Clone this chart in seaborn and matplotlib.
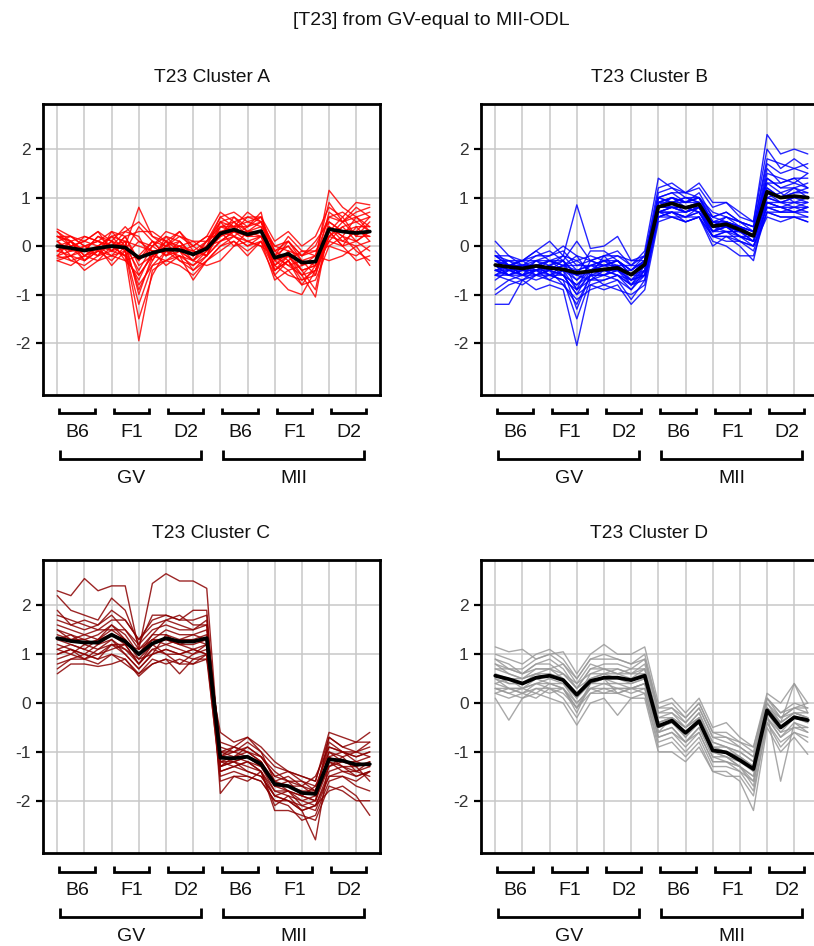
import matplotlib
matplotlib.use("Agg")
import matplotlib.pyplot as plt
from matplotlib import transforms
import numpy as np
import pandas as pd
import seaborn as sns

# ---------------------------------------------------------------------------
# Sample layout: 2 stages x 3 strains x 4 replicates = 24 samples
# ---------------------------------------------------------------------------
stages = ["GV", "MII"]
strains = ["B6", "F1", "D2"]
n_rep = 4
sample_pos = list(range(24))

# ---------------------------------------------------------------------------
# Cluster A: standardised expression of member genes and cluster centre
# ---------------------------------------------------------------------------
cluster_a_center = [0.0, -0.04, -0.09, -0.04, 0.0, -0.03, -0.24, -0.14,
                    -0.07, -0.08, -0.17, -0.05, 0.26, 0.34, 0.24, 0.31,
                    -0.24, -0.16, -0.34, -0.32, 0.35, 0.30, 0.27, 0.30]
cluster_a_genes = [
    [0.3, 0.1, -0.1, 0.2, 0.1, 0.0, 0.8, 0.2, 0.1, 0.3, -0.1, 0.1, 0.5, 0.6, 0.4, 0.6, -0.1, 0.1, -0.2, 0.0, 0.6, 0.5, 0.7, 0.8],
    [-0.2, -0.3, -0.4, -0.2, -0.1, -0.2, -1.95, -0.5, -0.3, -0.2, -0.4, -0.2, 0.1, 0.2, 0.1, 0.2, -0.5, -0.3, -0.6, -0.5, 0.2, 0.1, 0.0, 0.1],
    [0.2, 0.2, 0.0, 0.1, 0.3, 0.2, -0.3, 0.0, 0.2, 0.1, -0.2, 0.0, 0.6, 0.7, 0.5, 0.6, -0.2, 0.0, -0.4, -0.3, 1.15, 0.8, 0.6, 0.7],
    [-0.3, -0.2, -0.5, -0.3, -0.2, -0.1, -1.2, -0.4, -0.3, -0.4, -0.6, -0.3, 0.0, 0.1, -0.1, 0.1, -0.7, -0.5, -0.8, -0.7, 0.0, -0.1, -0.2, 0.0],
    [0.1, -0.1, 0.0, 0.1, 0.0, 0.1, -0.6, -0.2, 0.0, -0.1, -0.3, 0.1, 0.4, 0.3, 0.3, 0.5, -0.3, -0.2, -0.5, -0.4, 0.5, 0.3, 0.4, 0.4],
    [0.0, 0.1, -0.2, 0.0, 0.2, -0.1, 0.4, 0.1, -0.2, 0.0, 0.1, -0.1, 0.2, 0.5, 0.3, 0.4, 0.0, -0.1, -0.2, -0.1, 0.3, 0.6, 0.2, 0.5],
    [-0.1, 0.0, -0.3, -0.1, -0.3, 0.0, -0.9, -0.3, 0.1, -0.3, -0.5, -0.2, 0.3, 0.2, 0.0, 0.2, -0.4, -0.6, -0.7, -0.6, 0.4, 0.2, 0.1, 0.3],
    [0.35, 0.2, 0.1, 0.3, 0.1, 0.4, 0.1, 0.0, 0.3, 0.2, 0.0, 0.2, 0.7, 0.5, 0.6, 0.6, 0.1, 0.3, 0.0, 0.2, 0.8, 0.6, 0.9, 0.85],
    [-0.3, -0.4, -0.2, -0.3, 0.0, -0.2, -0.7, -0.1, -0.4, -0.2, -0.3, -0.4, -0.3, 0.0, 0.1, 0.0, -0.6, -0.9, -1.0, -0.5, 0.1, 0.0, -0.3, -0.2],
    [0.2, 0.0, 0.1, 0.3, -0.1, 0.2, -0.4, -0.2, 0.0, 0.1, -0.2, 0.0, 0.5, 0.4, 0.7, 0.5, -0.3, 0.1, -0.3, -0.2, 0.6, 0.7, 0.5, 0.6],
    [0.1, -0.2, -0.1, 0.0, 0.2, 0.1, 0.0, -0.1, -0.1, 0.0, -0.1, -0.2, 0.1, 0.3, 0.2, 0.3, -0.2, -0.4, -0.3, -0.6, 0.2, 0.4, 0.1, 0.3],
    [-0.2, 0.1, -0.3, 0.0, -0.4, -0.1, -1.5, -0.6, -0.1, -0.3, -0.4, -0.1, 0.4, 0.4, 0.2, 0.3, -0.4, -0.2, -0.5, -0.9, 0.4, 0.1, 0.3, 0.2],
    [0.0, -0.1, 0.2, 0.1, 0.0, 0.3, 0.2, -0.3, 0.2, -0.1, -0.3, -0.1, 0.2, 0.6, 0.3, 0.2, -0.1, -0.3, -0.1, -0.2, 0.9, 0.5, 0.6, 0.4],
    [0.2, 0.1, -0.2, -0.1, 0.1, -0.3, -0.2, 0.1, 0.0, 0.3, 0.0, -0.2, 0.5, 0.2, 0.4, 0.7, -0.5, -0.2, -0.6, -0.3, 0.3, 0.0, 0.4, 0.1],
    [-0.1, -0.2, 0.0, -0.2, 0.3, 0.0, -0.3, 0.1, -0.2, 0.1, -0.2, 0.0, 0.1, 0.3, 0.1, 0.0, -0.2, 0.2, -0.1, -0.1, 0.0, 0.2, -0.1, -0.3],
    [0.3, 0.0, 0.1, 0.0, -0.2, 0.1, -1.0, -0.2, 0.1, 0.0, -0.2, 0.1, 0.6, 0.4, 0.5, 0.4, -0.6, -0.3, -0.8, -0.4, 0.7, 0.5, 0.8, 0.6],
    [-0.2, -0.1, -0.1, 0.2, 0.0, -0.2, 0.1, -0.1, -0.1, -0.2, -0.7, -0.3, -0.1, 0.1, -0.2, 0.1, -0.3, -0.5, -0.4, -0.2, -0.3, -0.2, 0.0, -0.4],
    [0.1, 0.2, 0.0, -0.1, 0.2, 0.3, 0.5, 0.2, 0.0, 0.2, 0.1, 0.1, 0.3, 0.4, 0.4, 0.5, 0.0, 0.1, -0.2, 0.1, 0.5, 0.3, 0.3, 0.6],
    [0.0, -0.3, -0.2, 0.0, -0.1, 0.0, -0.5, 0.0, -0.2, -0.1, -0.1, -0.2, 0.4, 0.5, 0.2, 0.2, -0.4, -0.1, -0.5, -0.4, 0.2, 0.5, 0.2, 0.2],
    [-0.1, 0.1, -0.1, -0.2, 0.1, -0.1, -0.8, -0.4, -0.1, 0.0, -0.3, 0.0, 0.3, 0.0, 0.3, 0.3, -0.2, -0.4, -0.6, -1.05, 0.4, 0.2, 0.6, 0.3],
    [0.2, 0.1, 0.2, 0.1, -0.1, 0.2, 0.3, 0.3, 0.1, -0.1, 0.0, 0.2, 0.2, 0.3, 0.6, 0.5, -0.1, 0.0, -0.3, -0.4, 0.1, 0.4, 0.5, 0.3],
    [-0.25, -0.2, -0.3, -0.1, -0.2, -0.3, -0.6, -0.2, -0.3, -0.1, -0.5, -0.3, 0.0, 0.2, 0.0, 0.1, -0.5, -0.3, -0.7, -0.5, 0.3, 0.0, 0.1, -0.1],
]

# ---------------------------------------------------------------------------
# Cluster B
# ---------------------------------------------------------------------------
cluster_b_center = [-0.39, -0.43, -0.46, -0.41, -0.45, -0.48, -0.55, -0.52,
                    -0.48, -0.45, -0.59, -0.38, 0.81, 0.88, 0.79, 0.86,
                    0.41, 0.45, 0.34, 0.21, 1.12, 1.00, 1.03, 1.00]
cluster_b_genes = [
    [0.1, -0.2, -0.3, -0.1, -0.3, -0.2, 0.85, -0.05, 0.0, 0.2, -0.3, -0.2, 1.2, 1.3, 1.1, 1.3, 0.9, 0.9, 0.7, 0.5, 2.3, 1.9, 2.0, 1.9],
    [-1.2, -1.2, -0.7, -0.9, -0.8, -0.9, -2.05, -0.8, -0.9, -0.8, -1.2, -0.9, 0.5, 0.6, 0.5, 0.6, 0.1, 0.0, -0.2, -0.2, 0.7, 0.6, 0.6, 0.5],
    [-0.3, -0.5, -0.4, -0.3, -0.4, -0.3, -0.6, -0.5, -0.4, -0.3, -0.6, -0.3, 0.9, 1.0, 0.8, 0.9, 0.5, 0.4, 0.3, 0.1, 1.2, 1.0, 1.1, 1.1],
    [-0.6, -0.7, -0.6, -0.5, -0.6, -0.7, -1.5, -0.7, -0.5, -0.6, -0.8, -0.6, 0.6, 0.7, 0.6, 0.7, 0.2, 0.3, 0.1, 0.0, 0.8, 0.7, 0.8, 0.7],
    [-0.2, -0.3, -0.3, -0.2, -0.1, -0.3, 0.1, -0.3, -0.2, -0.1, -0.4, -0.2, 1.0, 1.1, 0.9, 1.1, 0.6, 0.7, 0.5, 0.4, 1.7, 1.5, 1.6, 1.5],
    [-0.5, -0.4, -0.6, -0.5, -0.3, -0.5, -0.9, -0.6, -0.6, -0.4, -0.7, -0.4, 0.7, 0.8, 0.7, 0.8, 0.3, 0.4, 0.2, 0.1, 1.0, 0.9, 0.9, 0.9],
    [-1.0, -0.8, -0.7, -0.6, -0.5, -0.8, -1.2, -0.6, -0.8, -0.7, -1.1, -0.7, 0.6, 0.7, 0.5, 0.6, 0.0, 0.2, 0.0, -0.3, 0.9, 0.8, 0.7, 0.8],
    [-0.1, -0.4, -0.3, -0.1, 0.1, -0.2, -0.3, -0.2, -0.3, -0.2, -0.4, -0.1, 1.4, 1.2, 1.1, 1.2, 0.8, 0.9, 0.6, 0.5, 2.0, 1.6, 1.8, 1.6],
    [-0.4, -0.6, -0.5, -0.6, -0.4, -0.5, -0.7, -0.4, -0.5, -0.5, -0.7, -0.5, 0.8, 0.9, 0.8, 0.7, 0.3, 0.5, 0.4, 0.2, 1.1, 0.9, 1.0, 1.0],
    [-0.3, -0.3, -0.4, -0.4, -0.6, -0.4, -0.2, -0.6, -0.2, -0.5, -0.5, -0.3, 0.9, 1.0, 0.9, 1.0, 0.5, 0.6, 0.5, 0.3, 1.4, 1.2, 1.3, 1.2],
    [-0.7, -0.5, -0.6, -0.7, -0.6, -0.6, -1.0, -0.8, -0.7, -0.6, -0.9, -0.5, 0.7, 0.6, 0.6, 0.7, 0.2, 0.2, 0.1, 0.0, 0.6, 0.5, 0.6, 0.5],
    [-0.2, -0.4, -0.6, -0.3, -0.2, -0.1, -0.4, -0.3, -0.4, -0.3, -0.5, -0.2, 1.0, 0.9, 1.0, 0.9, 0.5, 0.5, 0.4, 0.3, 1.6, 1.3, 1.4, 1.4],
    [-0.5, -0.5, -0.4, -0.4, -0.5, -0.6, -0.8, -0.5, -0.4, -0.5, -0.6, -0.6, 0.8, 0.8, 0.7, 0.9, 0.4, 0.3, 0.3, 0.2, 0.9, 0.8, 0.8, 0.9],
    [-0.4, -0.3, -0.5, -0.4, -0.3, -0.3, -0.6, -0.1, -0.1, -0.3, -0.5, -0.3, 0.8, 1.0, 0.9, 1.0, 0.4, 0.5, 0.4, 0.2, 1.3, 1.1, 1.2, 1.1],
    [-0.6, -0.6, -0.7, -0.5, -0.7, -0.5, -1.3, -0.6, -0.6, -0.7, -0.9, -0.6, 0.7, 0.7, 0.6, 0.8, 0.3, 0.3, 0.2, 0.1, 0.8, 0.7, 0.7, 0.7],
    [-0.3, -0.4, -0.3, -0.5, -0.4, -0.2, -0.5, -0.4, -0.3, -0.4, -0.4, -0.4, 0.9, 0.8, 0.8, 0.8, 0.6, 0.5, 0.4, 0.3, 1.1, 1.0, 1.2, 1.0],
    [-0.5, -0.4, -0.5, -0.3, -0.5, -0.4, -0.7, -0.5, -0.5, -0.4, -0.8, -0.4, 1.0, 0.9, 1.0, 0.9, 0.4, 0.6, 0.4, 0.3, 1.5, 1.4, 1.3, 1.5],
    [-0.9, -0.7, -0.8, -0.6, -0.7, -0.8, -1.1, -0.9, -0.8, -0.9, -1.0, -0.8, 0.6, 0.6, 0.5, 0.6, 0.2, 0.1, 0.1, -0.1, 0.7, 0.6, 0.6, 0.6],
    [-0.2, -0.2, -0.4, -0.2, -0.2, 0.0, -0.2, -0.3, -0.2, -0.2, -0.3, -0.3, 1.1, 1.2, 1.0, 1.0, 0.7, 0.6, 0.5, 0.4, 1.8, 1.7, 1.6, 1.7],
    [-0.4, -0.6, -0.5, -0.5, -0.4, -0.6, -0.8, -0.6, -0.5, -0.6, -0.7, -0.6, 0.7, 0.8, 0.8, 0.7, 0.3, 0.4, 0.2, 0.2, 0.9, 0.9, 0.8, 0.8],
    [-0.6, -0.4, -0.4, -0.4, -0.3, -0.4, -0.5, -0.4, -0.4, -0.3, -0.6, -0.4, 0.8, 0.9, 0.9, 1.0, 0.5, 0.5, 0.3, 0.2, 1.2, 1.0, 1.1, 1.2],
    [-0.3, -0.5, -0.4, -0.5, -0.5, -0.3, -0.9, -0.3, -0.4, -0.4, -0.6, -0.4, 0.9, 0.9, 0.7, 0.8, 0.4, 0.4, 0.3, 0.2, 1.0, 1.1, 0.9, 1.0],
    [-0.5, -0.6, -0.6, -0.4, -0.6, -0.5, -0.6, -0.7, -0.6, -0.5, -0.8, -0.5, 0.7, 0.7, 0.7, 0.8, 0.3, 0.4, 0.2, 0.1, 0.8, 0.8, 0.7, 0.8],
    [-0.2, -0.4, -0.3, -0.3, -0.3, -0.4, -0.4, -0.4, -0.3, -0.3, -0.5, -0.3, 1.0, 1.1, 1.1, 1.0, 0.6, 0.7, 0.5, 0.4, 1.3, 1.3, 1.4, 1.2],
    [-0.4, -0.5, -0.5, -0.5, -0.4, -0.5, -0.6, -0.5, -0.5, -0.4, -0.6, -0.5, 0.8, 0.8, 0.8, 0.9, 0.4, 0.4, 0.3, 0.2, 1.0, 0.9, 1.0, 0.9],
    [-0.6, -0.5, -0.6, -0.6, -0.5, -0.6, -1.0, -0.5, -0.6, -0.5, -0.7, -0.6, 0.7, 0.8, 0.7, 0.8, 0.2, 0.3, 0.3, 0.1, 0.9, 0.8, 0.9, 0.8],
    [-0.3, -0.4, -0.4, -0.4, -0.5, -0.4, -0.3, -0.5, -0.3, -0.5, -0.6, -0.3, 0.9, 1.0, 0.9, 0.9, 0.5, 0.4, 0.4, 0.3, 1.4, 1.2, 1.2, 1.3],
    [-0.5, -0.6, -0.4, -0.6, -0.6, -0.7, -0.9, -0.7, -0.7, -0.6, -0.8, -0.7, 0.6, 0.7, 0.6, 0.6, 0.2, 0.2, 0.2, 0.0, 0.7, 0.7, 0.7, 0.6],
]

# ---------------------------------------------------------------------------
# Cluster C
# ---------------------------------------------------------------------------
cluster_c_center = [1.33, 1.27, 1.24, 1.24, 1.40, 1.26, 1.00, 1.22,
                    1.33, 1.26, 1.26, 1.33, -1.12, -1.13, -1.10, -1.25,
                    -1.66, -1.70, -1.84, -1.86, -1.15, -1.18, -1.26, -1.25]
cluster_c_genes = [
    [2.3, 2.2, 2.55, 2.3, 2.4, 2.4, 1.1, 2.45, 2.65, 2.5, 2.5, 2.35, -1.3, -1.2, -1.4, -1.5, -1.9, -2.0, -2.1, -2.2, -1.5, -1.5, -1.6, -1.4],
    [0.6, 0.8, 0.8, 0.75, 0.8, 0.9, 0.55, 0.8, 0.9, 0.6, 0.9, 0.9, -0.6, -0.8, -0.7, -0.9, -1.2, -1.4, -1.5, -1.6, -0.6, -0.7, -0.8, -0.8],
    [2.2, 1.9, 1.8, 1.7, 2.15, 1.9, 1.2, 1.8, 1.8, 1.7, 1.9, 1.9, -1.85, -1.5, -1.6, -1.4, -2.2, -2.2, -2.3, -2.4, -1.7, -1.8, -2.0, -2.0],
    [1.0, 1.1, 1.0, 0.9, 1.2, 1.0, 0.7, 1.0, 1.1, 1.0, 1.1, 1.0, -1.0, -0.9, -1.0, -1.1, -1.5, -1.4, -1.6, -1.8, -0.9, -1.0, -1.0, -1.1],
    [1.7, 1.6, 1.5, 1.6, 1.8, 1.5, 1.1, 1.4, 1.7, 1.6, 1.5, 1.7, -1.4, -1.3, -1.2, -1.4, -1.9, -1.8, -2.0, -1.9, -1.3, -1.1, -1.4, -1.3],
    [1.3, 1.2, 1.1, 1.3, 1.5, 1.3, 0.9, 1.2, 1.3, 1.2, 1.3, 1.2, -1.1, -1.2, -1.1, -1.3, -1.6, -1.8, -1.9, -1.7, -1.2, -1.3, -1.4, -1.2],
    [0.9, 1.0, 0.9, 1.0, 1.1, 1.2, 0.8, 1.1, 1.0, 0.8, 1.0, 1.1, -0.9, -1.0, -0.8, -1.0, -1.6, -1.5, -1.7, -1.9, -0.7, -0.9, -1.0, -0.9],
    [1.5, 1.4, 1.3, 1.4, 1.6, 1.4, 1.0, 1.3, 1.5, 1.4, 1.4, 1.5, -1.2, -1.1, -1.0, -1.2, -1.7, -1.6, -1.9, -2.0, -1.0, -1.2, -1.2, -1.3],
    [1.1, 1.0, 1.2, 1.1, 1.3, 1.1, 0.8, 1.1, 1.2, 1.1, 1.0, 1.2, -1.2, -1.3, -1.2, -1.3, -1.8, -1.9, -2.0, -2.1, -1.4, -1.3, -1.5, -1.4],
    [1.8, 1.7, 1.6, 1.5, 1.7, 1.7, 1.3, 1.6, 1.7, 1.8, 1.6, 1.6, -1.0, -1.0, -0.9, -1.1, -1.4, -1.6, -1.7, -1.5, -0.9, -1.0, -1.1, -1.0],
    [0.8, 0.9, 1.0, 0.9, 1.0, 0.9, 0.6, 0.9, 0.8, 0.9, 0.8, 0.9, -1.5, -1.4, -1.5, -1.6, -2.0, -2.1, -2.4, -2.3, -1.6, -1.5, -1.7, -1.8],
    [1.4, 1.3, 1.3, 1.2, 1.4, 1.2, 1.1, 1.3, 1.2, 1.3, 1.3, 1.4, -1.1, -0.9, -1.0, -1.2, -1.7, -1.7, -1.8, -1.8, -1.1, -1.0, -1.2, -1.1],
    [1.2, 1.1, 1.0, 1.2, 1.3, 1.0, 0.7, 1.0, 1.4, 1.2, 1.1, 1.2, -1.3, -1.2, -1.3, -1.4, -2.1, -1.9, -2.2, -2.8, -1.2, -1.4, -1.4, -1.5],
    [1.6, 1.5, 1.4, 1.5, 1.5, 1.5, 1.2, 1.5, 1.6, 1.5, 1.5, 1.6, -1.0, -1.1, -0.9, -1.1, -1.5, -1.6, -1.6, -1.7, -1.0, -1.1, -1.0, -0.8],
    [1.0, 1.1, 0.9, 1.1, 1.2, 1.1, 0.9, 1.0, 1.1, 1.0, 0.9, 1.0, -1.3, -1.1, -1.2, -1.4, -1.8, -1.8, -2.1, -2.0, -1.3, -1.2, -1.3, -1.6],
    [1.9, 1.6, 1.7, 1.6, 1.9, 1.7, 1.3, 1.7, 1.8, 1.7, 1.7, 1.8, -1.2, -1.2, -1.1, -1.3, -1.7, -1.8, -1.9, -2.0, -1.1, -1.3, -1.3, -1.2],
    [1.1, 1.2, 1.1, 1.0, 1.2, 1.2, 0.8, 1.2, 1.0, 1.0, 1.1, 1.0, -1.1, -1.0, -1.1, -1.2, -1.6, -1.7, -1.7, -1.8, -0.8, -1.0, -1.1, -1.0],
    [1.3, 1.4, 1.2, 1.3, 1.4, 1.3, 1.0, 1.3, 1.3, 1.2, 1.2, 1.3, -1.4, -1.3, -1.4, -1.5, -1.9, -2.0, -2.2, -2.1, -1.5, -1.4, -1.5, -1.4],
    [0.7, 0.9, 0.9, 0.8, 1.0, 0.8, 0.6, 0.8, 0.9, 0.8, 0.8, 1.0, -1.6, -1.5, -1.5, -1.6, -2.0, -2.0, -2.2, -2.1, -1.8, -1.7, -1.9, -2.3],
    [1.5, 1.3, 1.4, 1.3, 1.6, 1.3, 1.0, 1.4, 1.4, 1.3, 1.4, 1.3, -0.8, -0.9, -0.7, -1.0, -1.3, -1.4, -1.5, -1.6, -0.7, -0.9, -0.8, -0.6],
]

# ---------------------------------------------------------------------------
# Cluster D
# ---------------------------------------------------------------------------
cluster_d_center = [0.56, 0.49, 0.40, 0.52, 0.56, 0.47, 0.17, 0.45,
                    0.52, 0.52, 0.47, 0.56, -0.47, -0.36, -0.61, -0.37,
                    -0.97, -1.01, -1.17, -1.35, -0.15, -0.50, -0.29, -0.35]
cluster_d_genes = [
    [1.15, 1.05, 1.1, 0.9, 1.0, 1.05, 0.6, 1.0, 1.2, 1.0, 1.0, 1.15, 0.0, 0.1, -0.2, 0.1, -0.5, -0.4, -0.7, -0.9, 0.2, 0.0, 0.4, 0.0],
    [0.1, -0.35, 0.1, 0.2, 0.1, 0.0, -0.45, 0.0, 0.1, -0.25, 0.1, 0.1, -1.0, -1.0, -1.2, -0.9, -1.4, -1.4, -1.6, -2.2, -0.5, -1.0, -0.7, -1.05],
    [0.8, 0.7, 0.6, 0.8, 0.9, 0.7, 0.3, 0.7, 0.8, 0.8, 0.7, 0.9, -0.2, -0.1, -0.4, -0.1, -0.7, -0.8, -0.9, -1.1, 0.1, -0.3, -0.1, -0.2],
    [0.3, 0.2, 0.1, 0.3, 0.3, 0.2, -0.1, 0.2, 0.3, 0.3, 0.2, 0.3, -0.7, -0.6, -0.9, -0.6, -1.2, -1.2, -1.4, -1.6, -0.3, -0.7, -0.5, -0.6],
    [0.6, 0.5, 0.5, 0.6, 0.7, 0.5, 0.2, 0.5, 0.6, 0.6, 0.5, 0.7, -0.4, -0.3, -0.6, -0.3, -0.9, -1.0, -1.1, -1.3, -0.1, -0.4, -0.2, -0.3],
    [0.4, 0.3, 0.2, 0.4, 0.5, 0.4, 0.0, 0.3, 0.4, 0.4, 0.4, 0.5, -0.5, -0.4, -0.7, -0.4, -1.0, -1.1, -1.2, -1.4, -0.2, -0.6, -0.3, -0.4],
    [0.9, 0.8, 0.6, 0.7, 0.7, 0.8, 0.4, 0.8, 0.7, 0.6, 0.7, 0.7, -0.3, -0.2, -0.5, -0.2, -0.8, -0.9, -1.0, -1.2, -0.1, -0.3, -0.2, -0.3],
    [0.2, 0.3, 0.3, 0.2, 0.4, 0.3, -0.2, 0.4, 0.5, 0.2, 0.3, 0.4, -0.6, -0.5, -0.8, -0.5, -1.1, -1.2, -1.3, -1.7, -0.2, -1.6, -0.4, -0.5],
    [0.7, 0.6, 0.5, 0.6, 0.6, 0.5, 0.1, 0.6, 0.7, 0.7, 0.6, 0.6, -0.5, -0.4, -0.6, -0.4, -1.0, -1.0, -1.1, -1.3, -0.1, -0.5, -0.3, -0.3],
    [0.5, 0.4, 0.4, 0.5, 0.6, 0.5, 0.2, 0.5, 0.5, 0.5, 0.4, 0.5, -0.4, -0.3, -0.5, -0.3, -0.9, -0.9, -1.1, -1.3, -0.2, -0.4, 0.4, -0.2],
    [0.3, 0.3, 0.2, 0.3, 0.2, 0.3, -0.1, 0.3, 0.2, 0.3, 0.3, 0.2, -0.8, -0.7, -1.0, -0.7, -1.3, -1.3, -1.4, -1.8, -0.4, -0.8, -0.6, -0.7],
    [1.0, 0.9, 0.8, 1.0, 1.1, 0.9, 0.5, 0.9, 1.0, 0.9, 0.8, 1.0, -0.1, 0.0, -0.3, 0.0, -0.6, -0.6, -0.8, -1.0, 0.1, -0.2, 0.0, -0.1],
    [0.4, 0.5, 0.3, 0.5, 0.4, 0.4, 0.1, 0.4, 0.5, 0.4, 0.3, 0.4, -0.6, -0.3, -0.7, -0.3, -1.0, -1.1, -1.3, -1.5, -0.2, -0.5, -0.3, -0.4],
    [0.6, 0.4, 0.4, 0.6, 0.5, 0.6, 0.3, 0.5, 0.6, 0.5, 0.5, 0.6, -0.3, -0.3, -0.5, -0.3, -0.8, -0.9, -1.0, -1.2, 0.0, -0.4, -0.2, -0.2],
    [0.2, 0.1, 0.2, 0.1, 0.3, 0.1, -0.3, 0.2, 0.2, 0.2, 0.1, 0.2, -0.9, -0.8, -1.1, -0.8, -1.4, -1.5, -1.5, -1.9, -0.4, -0.9, -0.6, -0.8],
    [0.7, 0.7, 0.6, 0.8, 0.8, 0.6, 0.3, 0.7, 0.7, 0.6, 0.6, 0.8, -0.2, -0.2, -0.4, -0.1, -0.7, -0.7, -0.9, -1.1, 0.0, -0.3, -0.1, -0.1],
    [0.5, 0.3, 0.3, 0.4, 0.4, 0.3, -0.1, 0.4, 0.4, 0.3, 0.3, 0.4, -0.6, -0.5, -0.8, -0.5, -1.1, -1.1, -1.3, -1.5, -0.3, -0.6, -0.5, -0.5],
    [0.8, 0.6, 0.5, 0.7, 0.7, 0.6, 0.4, 0.6, 0.6, 0.7, 0.6, 0.7, -0.4, -0.3, -0.5, -0.2, -0.9, -1.0, -1.1, -1.4, -0.1, -0.4, -0.2, -0.3],
    [0.3, 0.2, 0.3, 0.4, 0.3, 0.3, 0.0, 0.3, 0.3, 0.2, 0.3, 0.3, -0.7, -0.6, -0.8, -0.6, -1.2, -1.2, -1.3, -1.6, -0.3, -0.7, -0.4, -0.6],
    [0.9, 0.7, 0.7, 0.9, 1.0, 0.8, 0.5, 0.9, 0.9, 0.9, 0.8, 0.9, -0.1, -0.1, -0.3, 0.0, -0.6, -0.7, -0.8, -0.9, 0.1, -0.2, -0.1, 0.0],
]

panel_titles = ["T23 Cluster A", "T23 Cluster B", "T23 Cluster C", "T23 Cluster D"]
panel_colors = ["#ff0000", "#0000ff", "#8b0000", "#999999"]
figure_title = "[T23] from GV-equal to MII-ODL"

# ---------------------------------------------------------------------------
# Figure
# ---------------------------------------------------------------------------
sns.set_theme(style="white")
plt.rcParams["font.family"] = ["Liberation Sans", "DejaVu Sans"]
plt.rcParams["axes.unicode_minus"] = False

FIG_W, FIG_H = 814, 946
fig = plt.figure(figsize=(FIG_W / 100, FIG_H / 100), dpi=100)

# axes boxes in pixels: left, top, width, height
boxes = [(43, 104, 337, 291), (481, 104, 337, 291),
         (43, 560, 337, 293), (481, 560, 337, 293)]


def long_table(genes):
    rows = []
    for g, values in enumerate(genes):
        for pos, v in zip(sample_pos, values):
            rows.append({"gene": g, "sample": pos, "value": v})
    return pd.DataFrame(rows)


def add_brackets(ax, h_px):
    blend = transforms.blended_transform_factory(ax.transData, ax.transAxes)

    def yf(px):
        return -px / h_px

    # strain brackets
    for k in range(6):
        x0, x1 = 4 * k + 0.15, 4 * k + 2.75
        ax.plot([x0, x0, x1, x1], [yf(13), yf(18.5), yf(18.5), yf(13)],
                transform=blend, color="black", lw=2.0, clip_on=False,
                solid_joinstyle="miter", solid_capstyle="butt")
        ax.text((x0 + x1) / 2, yf(42), strains[k % 3], transform=blend,
                ha="center", va="baseline", fontsize=14, color="#111111")
    # stage brackets
    for k, stage in enumerate(stages):
        x0, x1 = 12 * k + 0.2, 12 * k + 10.6
        ax.plot([x0, x0, x1, x1], [yf(55), yf(64), yf(64), yf(55)],
                transform=blend, color="black", lw=2.0, clip_on=False,
                solid_joinstyle="miter", solid_capstyle="butt")
        ax.text((x0 + x1) / 2, yf(88), stage, transform=blend,
                ha="center", va="baseline", fontsize=14, color="#111111")


def draw_panel(box, genes, center, color, title):
    left, top, w, h = box
    ax = fig.add_axes([left / FIG_W, 1 - (top + h) / FIG_H, w / FIG_W, h / FIG_H])
    df = long_table(genes)
    sns.lineplot(data=df, x="sample", y="value", units="gene", estimator=None,
                 color=color, lw=1.0, alpha=0.85, ax=ax, legend=False)
    sns.lineplot(x=sample_pos, y=center, color="black", lw=2.7, ax=ax,
                 legend=False)

    ax.set_xlim(-1.05, 23.75)
    ax.set_ylim(-3.07, 2.93)
    ax.set_xticks(range(0, 24, 2))
    ax.set_xticklabels([])
    ax.set_yticks([-2, -1, 0, 1, 2])
    ax.set_yticklabels(["-2", "-1", "0", "1", "2"])
    ax.set_xlabel("")
    ax.set_ylabel("")
    ax.tick_params(axis="x", length=0)
    ax.tick_params(axis="y", length=5, width=1.6, color="black",
                   labelsize=12.5, labelcolor="#333333", pad=4, left=True)
    ax.grid(True, color="#c8c8c8", lw=1.1)
    ax.set_axisbelow(True)
    for sp in ax.spines.values():
        sp.set_visible(True)
        sp.set_color("black")
        sp.set_linewidth(2.0)

    ax.text(0.5, 1 + 22 / h, title, transform=ax.transAxes, ha="center",
            va="baseline", fontsize=13.8, color="#111111")
    add_brackets(ax, h)
    return ax


panel_data = [(cluster_a_genes, cluster_a_center),
              (cluster_b_genes, cluster_b_center),
              (cluster_c_genes, cluster_c_center),
              (cluster_d_genes, cluster_d_center)]

for box, (genes, center), color, title in zip(boxes, panel_data,
                                               panel_colors, panel_titles):
    draw_panel(box, genes, center, color, title)

fig.text(431 / FIG_W, 1 - 25 / FIG_H, figure_title, ha="center",
         va="baseline", fontsize=14, color="#111111")

fig.savefig("out.png", dpi=100)
